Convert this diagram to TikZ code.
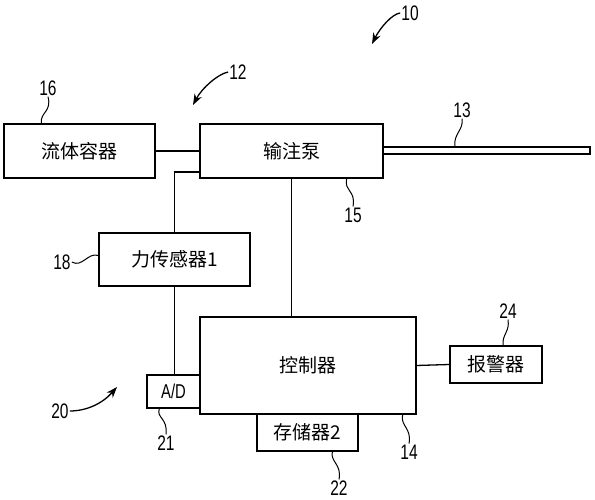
\documentclass[tikz,border=0pt]{standalone}
\usepackage{fontspec}
\setmainfont{Liberation Sans}
\newfontfamily\cjk{Noto Sans CJK SC}
\newfontfamily\numfont[FakeStretch=0.74]{Liberation Sans}
\usetikzlibrary{arrows.meta}

\tikzset{
  blk/.style={draw, line width=1.3pt, inner sep=0pt, font=\cjk\fontsize{19}{19}\selectfont},
  num/.style={inner sep=1pt, font=\numfont\fontsize{21}{21}\selectfont},
  lead/.style={line width=1pt},
  callout/.style={line width=1.3pt, -{Stealth[length=11pt,width=8pt]}},
}

\begin{document}
\begin{tikzpicture}[x=1pt,y=1pt]
            \useasboundingbox (0,0) rectangle (595,500);
            % boxes
            \node[blk, minimum width=151pt, minimum height=54pt] (fluid) at (79.5,349) {流体容器};
            \node[blk, minimum width=183pt, minimum height=54pt] (pump) at (291.5,349) {输注泵};
            \node[draw, line width=1.1pt, inner sep=0pt, minimum width=207pt, minimum height=7pt] (tube) at (486.5,349.5) {};
            \node[blk, minimum width=151pt, minimum height=53pt] (force) at (174.5,240.5) {力传感器1};
            \node[blk, minimum width=216pt, minimum height=97pt] (ctrl) at (308,134.5) {控制器};
            \node[blk, minimum width=53pt, minimum height=33pt, font=\numfont\fontsize{20}{20}\selectfont] (ad) at (173.5,108.5) {A/D};
            \node[blk, minimum width=101pt, minimum height=37pt] (mem) at (307.5,67.5) {存储器2};
            \node[blk, minimum width=92pt, minimum height=37pt] (alarm) at (496,135.5) {报警器};
            % connections
            \draw[line width=1.3pt] (fluid.east) to (pump.west);
            \draw[line width=1.3pt] ([yshift=-21pt]pump.west) -| (force.north);
            \draw[line width=1.3pt] (force.south) to (force.south |- ad.north);
            \draw[line width=1.3pt] (pump.south) to (pump.south |- ctrl.north);
            \draw[line width=1.3pt] (ctrl.east) to (alarm.west);
            % reference numerals
            \node[num] (n10) at (410,487) {10};
            \node[num] (n12) at (238,428) {12};
            \node[num] (n16) at (48,412) {16};
            \node[num] (n13) at (462,390) {13};
            \node[num] (n15) at (353,285) {15};
            \node[num] (n18) at (62,238) {18};
            \node[num] (n20) at (60,89) {20};
            \node[num] (n21) at (166,57) {21};
            \node[num] (n22) at (339,12) {22};
            \node[num] (n14) at (409,48) {14};
            \node[num] (n24) at (508,189) {24};
            \coordinate (t10) at (372,456);
            \coordinate (t12) at (193,395);
            \coordinate (t20) at (117,113);
            \draw[callout] (n10.west) .. controls (392,486) and (380,472) .. (t10);
            \draw[callout] (n12.west) .. controls (218,426) and (202,412) .. (t12);
            \draw[callout] (n20.east) .. controls (86,89) and (102,96) .. (t20);
            \draw[lead] (n16.south) .. controls (52,388) and (40,388) .. ([xshift=38pt]fluid.north west);
            \draw[lead] (n13.south) .. controls (464,370) and (453,366) .. ([xshift=-31.5pt]tube.north);
            \draw[lead] ([xshift=-37pt]pump.south east) .. controls (344,308) and (356,310) .. (n15.north);
            \draw[lead] (n18.east) .. controls (82,232) and (88,248) .. ([yshift=4pt]force.west);
            \draw[lead] ([xshift=13pt]ad.south west) .. controls (156,82) and (168,82) .. (n21.north);
            \draw[lead] ([xshift=76pt]mem.south west) .. controls (330,38) and (342,36) .. (n22.north);
            \draw[lead] ([xshift=-14pt]ctrl.south east) .. controls (400,74) and (412,72) .. (n14.north);
            \draw[lead] (n24.south) .. controls (510,168) and (502,166) .. ([xshift=7pt]alarm.north);
        \end{tikzpicture}
\end{document}
